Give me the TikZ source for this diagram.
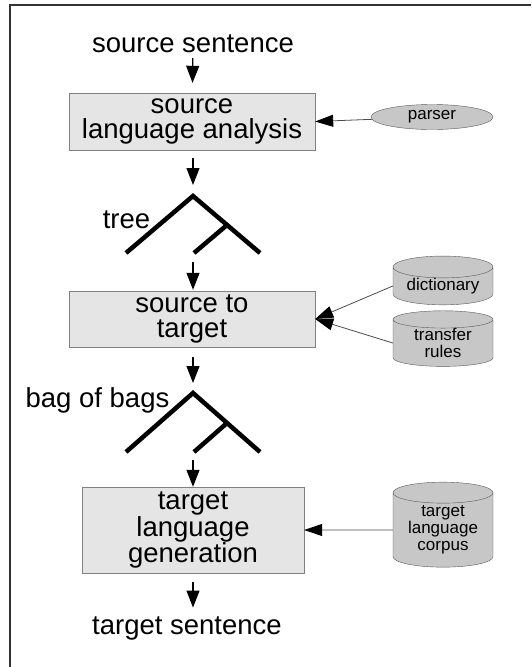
\documentclass[tikz,border=0pt]{standalone}
\usepackage{fontspec}
\setmainfont{Liberation Sans}
\usetikzlibrary{arrows.meta, positioning, shapes.geometric}

\begin{document}
\begin{tikzpicture}[x=1pt, y=-1pt,
   txt/.style = {inner sep=0pt, font=\fontsize{27.5}{25}\selectfont, align=center},
   stage/.style = {draw=black!50, fill=black!10, inner sep=0pt, font=\fontsize{27.5}{25}\selectfont, align=center},
   res/.style = {draw=black!65, fill=black!22, inner sep=0pt, font=\fontsize{17}{17}\selectfont, align=center},
   db/.style = {res, cylinder, shape border rotate=90, aspect=0.3, minimum width=100pt},
   flow/.style = {-{Triangle[width=13pt,length=17pt]}, line width=1.2pt},
   feed/.style = {-{Triangle[width=12pt,length=18pt,color=black]}, draw=black!70, line width=0.8pt},
   branch/.style = {line width=4.5pt}]
   \useasboundingbox (0,0) rectangle (531,667);
   \draw[line width=1.5pt, black!80] (10,667) -- (10,5) -- (531,5);

   \node (src)[txt] at (193,44) {source sentence};
   \node (sla)[stage, minimum width=246pt, minimum height=57pt] at (192,121.5) {source\\language analysis};
   \node (parser)[res, ellipse, minimum width=122pt, minimum height=25pt] at (432,117) {parser};
   \coordinate (tree1) at (193,196);
   \coordinate (tree1end) at (193,253);
   \node (treelbl)[txt] at (126.5,220) {tree};
   \node (s2t)[stage, minimum width=246pt, minimum height=56pt] at (192,319) {source to\\target};
   \node (dict)[db, minimum height=46pt] at (443,286) {dictionary};
   \node (rules)[db, minimum height=46pt, on grid, below=57pt of dict] {transfer\\rules};
   \coordinate (tree2) at (193,393);
   \coordinate (tree2end) at (193,452);
   \node (bagslbl)[txt] at (97.5,400) {bag of bags};
   \node (tlg)[stage, minimum width=222pt, minimum height=86pt] at (193,530) {target\\language\\generation};
   \node (corpus)[db, minimum height=85pt] at (443,530) {target\\language\\corpus};
   \node (tgt)[txt] at (187,628.5) {target sentence};

   % trees
   \draw[branch] (tree1) +(-67,57) -- (tree1) -- +(67,57);
   \draw[branch] (tree1) ++(34,29) -- +(-33,28);
   \draw[branch] (tree2) +(-67,59) -- (tree2) -- +(67,59);
   \draw[branch] (tree2) ++(34,30) -- +(-33,29);

   \draw[flow, shorten <=5pt, shorten >=10pt] (src) -- (sla);
   \draw[flow, shorten <=8pt, shorten >=11pt] (sla.south -| tree1) -- (tree1);
   \draw[flow, shorten <=9pt, shorten >=1pt] (tree1end) -- (s2t.north -| tree1end);
   \draw[flow, shorten <=10pt, shorten >=10pt] (s2t.south -| tree2) -- (tree2);
   \draw[flow, shorten <=8pt] (tree2end) -- (tlg.north -| tree2end);
   \draw[flow, shorten <=9pt, shorten >=9pt] (tlg.south) -- (tlg.south |- tgt.north);

   \draw[feed] (parser) -- (sla.east);
   \draw[feed] (dict.west) -- (s2t.east);
   \draw[feed] (rules.west) -- (s2t.east);
   \draw[feed] (corpus.west) -- (tlg.east);
\end{tikzpicture}
\end{document}
